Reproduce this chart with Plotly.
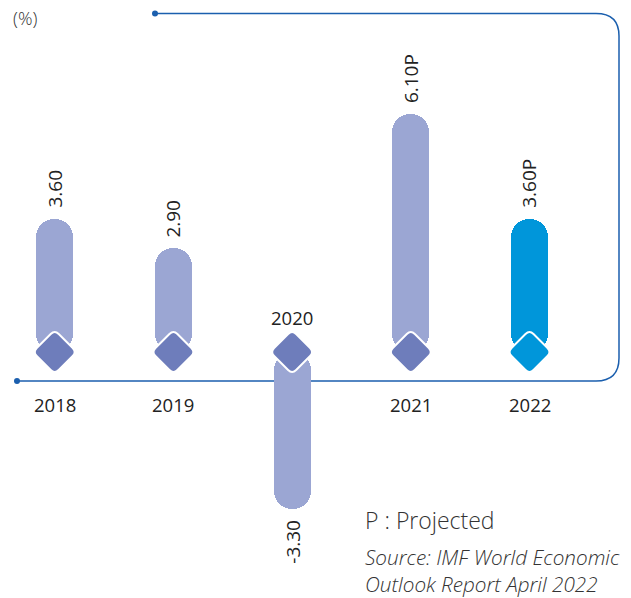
import plotly.graph_objects as go

# ---- data ----
years = ["2018", "2019", "2020", "2021", "2022"]
growth = [3.6, 2.9, -3.3, 6.1, 3.6]
value_labels = ["3.60", "2.90", "-3.30", "6.10P", "3.60P"]

W, H = 631, 598
BAR_LIGHT = "#9BA6D3"
DIAMOND = "#6E7DBB"
BLUE_2022 = "#0096DA"
FRAME = "#1B5FAE"
TXT = "#222222"
FONT = "Open Sans"

xs = list(range(len(years)))
bar_colors = [BLUE_2022 if i == len(years) - 1 else BAR_LIGHT for i in xs]
dia_colors = [BLUE_2022 if i == len(years) - 1 else DIAMOND for i in xs]

DIAMOND_OFFSET = 0.43  # diamond centre sits slightly above zero

fig = go.Figure()
fig.add_trace(go.Bar(
    x=xs, y=[v - DIAMOND_OFFSET for v in growth], base=DIAMOND_OFFSET,
    width=0.312,
    marker=dict(color=bar_colors, line=dict(width=0), cornerradius="50%"),
    hoverinfo="skip", showlegend=False,
))

def px2paper(px, py):
    return px / W, 1 - py / H

# frame path (decoration) in paper coords
pts = {
    "a": (17, 381), "b": (596, 381), "c": (619, 381), "d": (619, 358),
    "e": (619, 36), "f": (619, 13.5), "g": (596, 13.5), "h": (155, 13.5),
}
P = {k: px2paper(*v) for k, v in pts.items()}
path = (f"M {P['a'][0]},{P['a'][1]} L {P['b'][0]},{P['b'][1]} "
        f"Q {P['c'][0]},{P['c'][1]} {P['d'][0]},{P['d'][1]} "
        f"L {P['e'][0]},{P['e'][1]} "
        f"Q {P['f'][0]},{P['f'][1]} {P['g'][0]},{P['g'][1]} "
        f"L {P['h'][0]},{P['h'][1]}")
shapes = [dict(type="path", path=path, xref="paper", yref="paper",
               line=dict(color=FRAME, width=1.5), layer="below")]
for k in ("a", "h"):
    cx, cy = pts[k]
    x0, y0 = px2paper(cx - 3, cy + 3)
    x1, y1 = px2paper(cx + 3, cy - 3)
    shapes.append(dict(type="circle", xref="paper", yref="paper",
                       x0=x0, y0=y0, x1=x1, y1=y1,
                       fillcolor=FRAME, line=dict(width=0), layer="below"))

# rounded diamonds (pixel-sized, anchored at each category)
R, s = 22, 4
dpath = (f"M {-s},{R - s} Q 0,{R} {s},{R - s} "
         f"L {R - s},{s} Q {R},0 {R - s},{-s} "
         f"L {s},{-(R - s)} Q 0,{-R} {-s},{-(R - s)} "
         f"L {-(R - s)},{-s} Q {-R},0 {-(R - s)},{s} Z")
for i in xs:
    shapes.append(dict(type="path", path=dpath, xref="x", yref="y",
                       xsizemode="pixel", ysizemode="pixel",
                       xanchor=i, yanchor=DIAMOND_OFFSET,
                       fillcolor=dia_colors[i],
                       line=dict(color="white", width=2), layer="above"))

annotations = []
for i, (yr, v, lab) in enumerate(zip(years, growth, value_labels)):
    annotations.append(dict(
        x=i, y=v, xref="x", yref="y", text=lab, showarrow=False,
        textangle=-90, xanchor="center",
        yanchor="bottom" if v >= 0 else "top",
        yshift=9 if v >= 0 else -9,
        font=dict(family=FONT, size=19, color=TXT),
    ))
    if v >= 0:
        annotations.append(dict(
            x=i, y=0, xref="x", yref="y", text=yr, showarrow=False,
            xanchor="center", yanchor="top", yshift=-20,
            font=dict(family=FONT, size=18.5, color=TXT)))
    else:
        annotations.append(dict(
            x=i, y=0, xref="x", yref="y", text=yr, showarrow=False,
            xanchor="center", yanchor="bottom", yshift=38,
            font=dict(family=FONT, size=18.5, color=TXT)))

annotations += [
    dict(x=11 / W, y=1 - 18 / H, xref="paper", yref="paper", text="(%)",
         showarrow=False, xanchor="left", yanchor="middle",
         font=dict(family=FONT, size=18, color="#333333", weight=300)),
    dict(x=363 / W, y=1 - 520 / H, xref="paper", yref="paper",
         text="P : Projected", showarrow=False, xanchor="left", yanchor="middle",
         font=dict(family=FONT, size=23, color="#333333", weight=300)),
    dict(x=363 / W, y=1 - 570 / H, xref="paper", yref="paper",
         text="<i>Source: IMF World Economic<br>Outlook Report April 2022</i>",
         showarrow=False, xanchor="left", yanchor="middle", align="left",
         font=dict(family=FONT, size=20.7, color="#333333", weight=300)),
]

fig.update_layout(
    width=W, height=H, margin=dict(l=0, r=0, t=0, b=0, pad=0),
    paper_bgcolor="white", plot_bgcolor="white",
    xaxis=dict(range=[-0.461, 4.855], visible=False, fixedrange=True),
    yaxis=dict(range=[-5.429, 8.810], visible=False, fixedrange=True),
    shapes=shapes, annotations=annotations, bargap=0,
)
fig.write_html(
    "out.html",
    config={"displayModeBar": False},
    post_script="document.body.style.margin='0';document.body.style.overflow='hidden';",
)
